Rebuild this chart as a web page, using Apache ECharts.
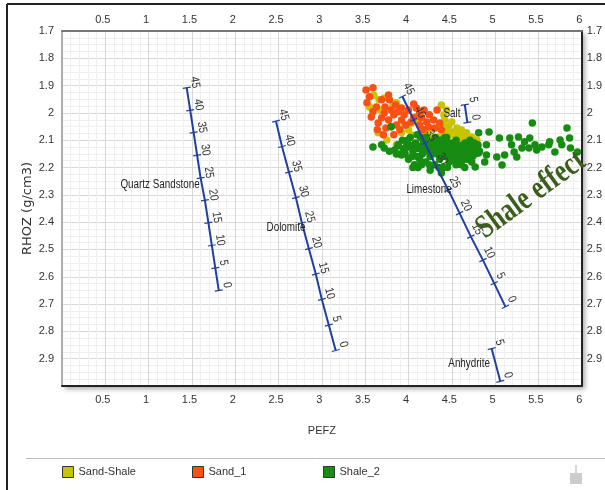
<!DOCTYPE html>
<html><head><meta charset="utf-8">
<script src="https://cdn.jsdelivr.net/npm/echarts@6/dist/echarts.min.js"></script>
<style>html,body{margin:0;padding:0;background:#fff}#c{width:605px;height:490px}</style>
</head><body><div id="c"></div>
<script>
// ---------- data ----------
const xTickLabels = ['0.5','1','1.5','2','2.5','3','3.5','4','4.5','5','5.5','6'];
const yTickLabels = ['1.7','1.8','1.9','2','2.1','2.2','2.3','2.4','2.5','2.6','2.7','2.8','2.9'];
const seriesNames = ['Sand-Shale','Sand_1','Shale_2'];

// [PEFZ, RHOZ]
const sandShale = [
[3.66,1.952],[3.67,1.989],[3.65,2.073],[3.86,1.963],[3.92,2.073],[4.00,2.062],[4.11,2.033],[4.41,2.007],
[4.42,2.026],[4.46,2.051],[4.52,2.070],[4.58,2.081],[4.64,2.088],[4.70,2.099],[4.35,2.088],[4.27,2.092],
[3.55,1.978],[3.72,1.945],[3.75,2.099],[3.86,2.117],[4.04,2.081],[4.15,2.070],[4.38,1.971],[4.44,1.989],
[4.50,2.033],[4.56,2.055],[4.61,2.062],[4.67,2.073],[4.73,2.088],[4.79,2.099],[4.75,2.110],[4.38,2.044],
[4.48,2.081],[4.21,2.081],[4.33,2.055],[3.60,1.935],[3.82,1.971],[3.95,2.045],[4.25,2.060],[4.40,2.070],
[4.55,2.095],[4.62,2.100],[4.09,2.014],[4.03,2.038],[4.39,2.038],[4.44,2.068]
];
const sand1 = [
[3.51,1.916],[3.59,1.908],[3.55,1.941],[3.63,1.978],[3.57,2.015],[3.65,2.037],[3.77,1.934],[3.78,1.952],
[3.72,2.000],[3.77,2.026],[3.83,2.007],[3.80,2.051],[3.88,1.996],[3.92,2.026],[3.95,2.007],[4.00,1.989],
[4.06,2.018],[4.09,1.982],[4.13,2.000],[4.18,1.989],[4.24,2.007],[4.29,2.026],[4.23,2.051],[4.17,2.062],
[4.30,2.055],[3.69,1.952],[3.52,1.963],[3.59,1.996],[3.85,1.971],[3.74,2.055],[3.86,2.044],[3.97,2.044],
[4.03,2.033],[4.13,2.044],[3.90,2.062],[3.80,1.989],[3.69,2.018],[3.73,1.978],[3.92,1.982],[4.06,1.967],
[4.15,2.018],[4.33,1.989],[4.21,2.033],[4.36,2.037],[4.38,2.062],[3.64,2.062],[3.71,2.080],[3.83,2.080]
];
const shale2 = [
[3.59,2.125],[3.69,2.117],[3.72,2.128],[3.80,2.051],[3.78,2.140],[3.84,2.136],[3.86,2.150],[3.92,2.154],
[3.88,2.117],[3.97,2.128],
[3.93,2.10],[3.98,2.12],[4.02,2.09],[4.05,2.14],[4.08,2.11],[4.10,2.16],[4.12,2.13],[4.14,2.09],
[4.16,2.15],[4.18,2.12],[4.20,2.18],[4.21,2.10],[4.23,2.14],[4.25,2.16],[4.26,2.11],[4.28,2.13],
[4.30,2.19],[4.31,2.09],[4.33,2.15],[4.34,2.12],[4.36,2.17],[4.37,2.10],[4.39,2.14],[4.40,2.20],
[4.41,2.12],[4.43,2.16],[4.44,2.09],[4.46,2.13],[4.47,2.18],[4.49,2.11],[4.50,2.15],[4.52,2.13],
[4.53,2.17],[4.55,2.10],[4.56,2.14],[4.58,2.12],[4.60,2.16],[4.61,2.19],[4.63,2.13],[4.65,2.11],
[4.66,2.15],[4.68,2.17],[4.70,2.12],[4.72,2.14],[4.74,2.16],[4.76,2.11],[4.78,2.13],
[3.96,2.15],[4.00,2.17],[4.03,2.12],[4.07,2.19],[4.11,2.20],[4.13,2.17],[4.17,2.10],[4.19,2.14],
[4.22,2.12],[4.24,2.19],[4.27,2.15],[4.29,2.11],[4.32,2.13],[4.35,2.14],[4.38,2.16],[4.42,2.14],
[4.45,2.11],[4.48,2.15],[4.51,2.17],[4.54,2.12],[4.57,2.16],[4.59,2.14],[4.62,2.12],[4.64,2.17],
[4.67,2.13],[4.69,2.15],[4.71,2.10],[4.73,2.18],[4.75,2.13],[4.77,2.15],[4.80,2.12],[4.82,2.14],
[3.88,2.12],[3.90,2.15],[3.94,2.13],[3.99,2.10],[4.04,2.16],[4.09,2.13],[4.15,2.12],[4.26,2.13],
[4.33,2.11],[4.40,2.13],[4.47,2.14],[4.53,2.15],[4.58,2.18],[4.63,2.15],[4.70,2.16],[4.10,2.08],
[4.20,2.09],[4.30,2.10],[4.42,2.09],[4.05,2.20],[4.15,2.19],[4.25,2.21],[4.35,2.20],[4.45,2.20],
[4.55,2.19],[4.65,2.20],[4.38,2.22],
[4.81,2.073],[4.93,2.070],[4.80,2.117],[4.90,2.117],[4.81,2.147],[4.90,2.154],[4.88,2.180],[4.77,2.198],
[5.05,2.092],[5.02,2.161],[5.11,2.154],[5.08,2.191],[5.19,2.117],[5.17,2.092],[5.27,2.088],[5.22,2.143],
[5.25,2.161],[5.31,2.128],[5.34,2.106],[5.40,2.092],[5.39,2.128],[5.43,2.037],[5.46,2.117],[5.48,2.136],
[5.54,2.125],[5.62,2.117],[5.63,2.106],[5.69,2.143],[5.75,2.099],[5.77,2.117],[5.83,2.055],[5.86,2.092],
[5.87,2.128],[5.95,2.143]
];

// Lithology lines: [porosity %, PEFZ, RHOZ]
const quartzTicks = [[0,1.81,2.650],[5,1.77,2.568],[10,1.73,2.485],[15,1.69,2.402],[20,1.65,2.320],
  [25,1.60,2.238],[30,1.56,2.155],[35,1.52,2.072],[40,1.48,1.990],[45,1.44,1.908]];
const dolomiteTicks = [[0,3.16,2.870],[5,3.08,2.777],[10,3.00,2.683],[15,2.93,2.590],[20,2.85,2.497],
  [25,2.77,2.403],[30,2.70,2.310],[35,2.62,2.217],[40,2.54,2.123],[45,2.47,2.030]];
const limestoneTicks = [[0,5.12,2.710],[5,4.99,2.624],[10,4.86,2.539],[15,4.72,2.453],[20,4.59,2.367],
  [25,4.46,2.282],[30,4.32,2.196],[35,4.19,2.110],[40,4.06,2.025],[45,3.93,1.940]];
const saltTicks = [[0,4.68,2.035],[5,4.65,1.970]];
const anhydriteTicks = [[0,5.06,2.983],[5,4.96,2.863]];
const lithoNames = ['Quartz Sandstone','Dolomite','Limestone','Salt','Anhydrite'];
const lithoTicks = [quartzTicks, dolomiteTicks, limestoneTicks, saltTicks, anhydriteTicks];
// where each lithology name is written (right end of the text)
const lithoLabelAt = [[1.59,2.264],[2.81,2.422],[4.50,2.282],[4.60,2.004],[4.94,2.918]];
const annotationText = 'Shale effect';

// ---------- chart ----------
const SANS = '"Liberation Sans",Arial,sans-serif';
const fmt = v => String(+(+v).toFixed(2));
const chart = echarts.init(document.getElementById('c'), null, {renderer:'canvas'});

function renderLitho(params, api) {
  const i = params.dataIndex;
  const ticks = lithoTicks[i];
  const pts = ticks.map(t => api.coord([t[1], t[2]]));
  const p0 = pts[0], pN = pts[pts.length - 1];
  let ux = p0[0] - pN[0], uy = p0[1] - pN[1];
  const len = Math.hypot(ux, uy); ux /= len; uy /= len;
  const nx = uy, ny = -ux;
  const rot = -Math.atan2(uy, ux);
  const children = [{
    type:'polyline', shape:{points:pts},
    style:{stroke:'#1f3fa3', lineWidth:2, fill:null}
  }];
  ticks.forEach((t, k) => {
    const p = pts[k];
    children.push({type:'line', shape:{x1:p[0]-nx*4, y1:p[1]-ny*4, x2:p[0]+nx*4, y2:p[1]+ny*4},
      style:{stroke:'#1f3fa3', lineWidth:1.2}});
    children.push({type:'text', x:p[0]+nx*9-ux*4, y:p[1]+ny*9-uy*4, rotation:rot, scaleX:0.85,
      style:{text:String(t[0]), fill:'#333', font:'12px ' + SANS, align:'center', verticalAlign:'middle'}});
  });
  const lp = api.coord(lithoLabelAt[i]);
  children.push({type:'text', x:lp[0], y:lp[1], scaleX:0.82,
    style:{text:lithoNames[i], fill:'#222', font:'12px ' + SANS, align:'right', verticalAlign:'middle'}});
  return {type:'group', children};
}

const axisLabelBase = {color:'#333', fontSize:11, fontFamily:SANS};
const option = {
  animation:false,
  textStyle:{fontFamily:SANS},
  grid:{left:62, top:31, right:23, bottom:104, show:true, backgroundColor:'#fff', borderWidth:0,
    shadowColor:'rgba(0,0,0,0.35)', shadowBlur:5, shadowOffsetX:3, shadowOffsetY:3},
  xAxis:[
    {type:'value', position:'bottom', min:0, max:6, interval:0.5,
     name:'PEFZ', nameLocation:'middle', nameGap:39,
     nameTextStyle:{color:'#333', fontSize:11, fontFamily:SANS},
     axisLine:{show:true, onZero:false, lineStyle:{color:'#222', width:2}},
     axisTick:{show:false},
     axisLabel:Object.assign({margin:8, padding:[0,5,0,0], formatter:v => xTickLabels.includes(fmt(v)) ? fmt(v) : ''}, axisLabelBase),
     splitLine:{show:true, lineStyle:{color:'#d8d8d8', width:1}},
     minorTick:{show:false, splitNumber:5},
     minorSplitLine:{show:true, lineStyle:{color:'#efefef', width:1}}},
    {type:'value', position:'top', min:0, max:6, interval:0.5,
     axisLine:{show:true, onZero:false, lineStyle:{color:'#777', width:2}},
     axisTick:{show:false},
     axisLabel:Object.assign({margin:6, padding:[0,5,0,0], formatter:v => xTickLabels.includes(fmt(v)) ? fmt(v) : ''}, axisLabelBase),
     splitLine:{show:false}}
  ],
  yAxis:[
    {type:'value', position:'left', inverse:true, min:1.7, max:3.0, interval:0.1,
     name:'RHOZ (g/cm3)', nameLocation:'middle', nameGap:28, nameRotate:90, nameMoveOverlap:false,
     nameTextStyle:{color:'#333', fontSize:13, fontFamily:'"DejaVu Sans",sans-serif'},
     axisLine:{show:true, onZero:false, lineStyle:{color:'#999', width:1.5}},
     axisTick:{show:false},
     axisLabel:Object.assign({margin:8, formatter:v => yTickLabels.includes(fmt(v)) ? fmt(v) : ''}, axisLabelBase),
     splitLine:{show:true, lineStyle:{color:'#d8d8d8', width:1}},
     minorTick:{show:false, splitNumber:4},
     minorSplitLine:{show:true, lineStyle:{color:'#efefef', width:1}}},
    {type:'value', position:'right', inverse:true, min:1.7, max:3.0, interval:0.1,
     axisLine:{show:true, onZero:false, lineStyle:{color:'#222', width:2}},
     axisTick:{show:false},
     axisLabel:Object.assign({margin:5, formatter:v => yTickLabels.includes(fmt(v)) ? fmt(v) : ''}, axisLabelBase),
     splitLine:{show:false}}
  ],
  legend: seriesNames.map((n, i) => ({
    data:[n], left:[62,192,323][i], top:466, padding:0, icon:'rect', itemWidth:11, itemHeight:11,
    itemStyle:{borderColor:'#333', borderWidth:1},
    textStyle:{color:'#333', fontSize:11, fontFamily:SANS}
  })),
  series:[
    {name:'Sand-Shale', type:'scatter', data:sandShale, symbolSize:7.5, itemStyle:{color:'#c9c400', opacity:1}, silent:true},
    {name:'Sand_1', type:'scatter', data:sand1, symbolSize:7.5, itemStyle:{color:'#fb5014', opacity:1}, silent:true},
    {name:'Shale_2', type:'scatter', data:shale2, symbolSize:7.5, itemStyle:{color:'#178c12', opacity:1}, silent:true},
    {type:'custom', coordinateSystem:'cartesian2d', renderItem:renderLitho, clip:false, silent:true, z:5,
     encode:{x:0, y:1}, data:lithoTicks.map(t => [t[0][1], t[0][2]])}
  ],
  graphic:[
    {type:'line', shape:{x1:7, y1:4, x2:7, y2:490}, style:{stroke:'#222', lineWidth:2}, silent:true},
    {type:'line', shape:{x1:7, y1:4, x2:605, y2:4}, style:{stroke:'#222', lineWidth:2}, silent:true},
    {type:'line', shape:{x1:26, y1:458.5, x2:605, y2:458.5}, style:{stroke:'#bdbdbd', lineWidth:1}, silent:true},
    {type:'rect', shape:{x:575, y:465, width:2, height:9}, style:{fill:'#d8d8d8'}, silent:true},
    {type:'rect', shape:{x:570, y:473, width:12, height:11}, style:{fill:'#cdcdcd'}, silent:true},
    {type:'text', x:531, y:195, rotation:36*Math.PI/180, scaleX:0.78, z:100, silent:true,
     style:{text:annotationText, font:'bold 33px "Liberation Serif",serif', fill:'#3b5e1d', align:'center', verticalAlign:'middle'}}
  ]
};
chart.setOption(option);
</script></body></html>
